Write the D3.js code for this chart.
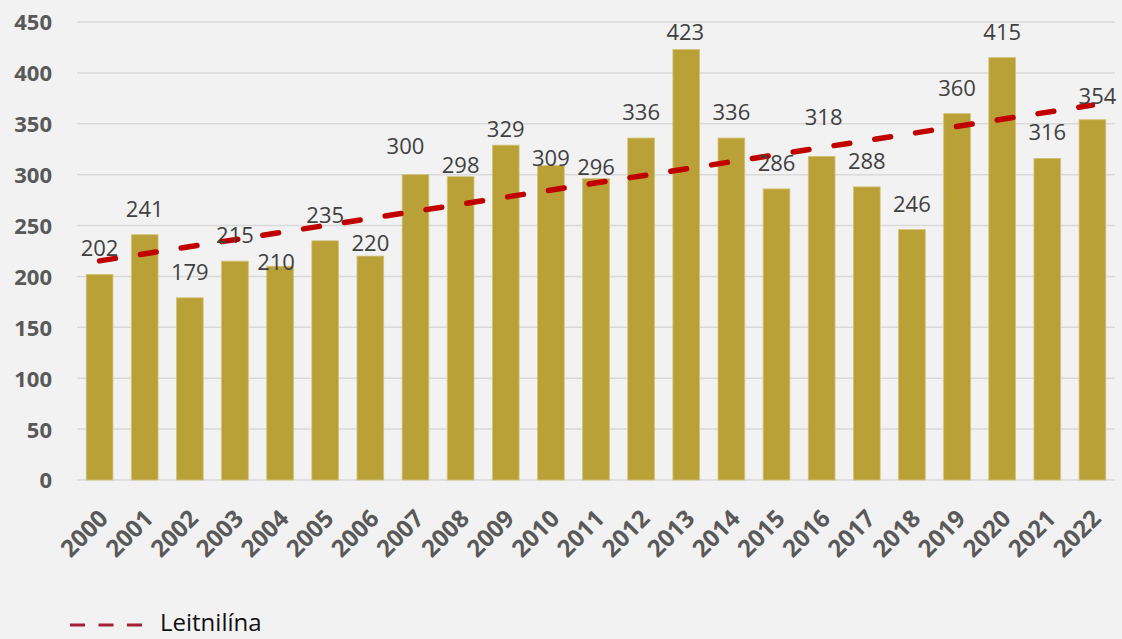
<!DOCTYPE html>
<html>
<head>
<meta charset="utf-8">
<script src="https://cdn.jsdelivr.net/npm/d3@7/dist/d3.min.js"></script>
<style>
  html, body { margin: 0; padding: 0; background: #f2f2f2; }
  svg { display: block; }
</style>
</head>
<body>
<svg id="chart" width="1122" height="639"></svg>
<script>
const years = ["2000","2001","2002","2003","2004","2005","2006","2007","2008","2009","2010","2011","2012","2013","2014","2015","2016","2017","2018","2019","2020","2021","2022"];
const values = [202,241,179,215,210,235,220,300,298,329,309,296,336,423,336,286,318,288,246,360,415,316,354];
const yTicks = [0,50,100,150,200,250,300,350,400,450];
const legendLabel = "Leitnilína";
// manual label nudges [dx, dy] (layout only)
const labelNudge = [[0,0],[0,0],[0,0],[0,0],[-4,22],[0,0],[0,13],[-10,-3],[0,14],[0,10],[0,18],[0,14],[0,0],[-1,9],[0,0],[0,0],[2,-13],[0,0],[0,0],[0,0],[0,0],[0,0],[5,2]];

(function () {
const svg = d3.select("#chart");
const W = 1122, H = 639;
svg.append("rect").attr("width", W).attr("height", H).attr("fill", "#f2f2f2");

const pLeft = 77, pRight = 1115, pTop = 22, pBottom = 480;
const x = d3.scaleBand().domain(years).range([pLeft, pRight]).paddingInner(0.408).paddingOuter(0.204);
const y = d3.scaleLinear().domain([0, 450]).range([pBottom, pTop]);
const font = "'Open Sans', 'Noto Sans', sans-serif";

// gridlines
svg.append("g").selectAll("line").data(yTicks).join("line")
  .attr("x1", pLeft).attr("x2", pRight)
  .attr("y1", d => y(d)).attr("y2", d => y(d))
  .attr("stroke", "#d9d9d9").attr("stroke-width", 1.5);

// y axis labels
const yAxis = d3.axisLeft(y).tickValues(yTicks).tickSize(0).tickPadding(0);
const gy = svg.append("g").attr("transform", `translate(52,0)`).call(yAxis);
gy.select(".domain").remove();
gy.selectAll("text")
  .attr("font-family", font)
  .attr("font-size", 22).attr("font-weight", "bold").attr("fill", "#595959")
  .attr("dy", "0.36em");

// bars
const data = years.map((yr, i) => ({ yr, v: values[i], i }));
svg.append("g").selectAll("rect").data(data).join("rect")
  .attr("x", d => x(d.yr)).attr("width", x.bandwidth())
  .attr("y", d => y(d.v)).attr("height", d => y(0) - y(d.v))
  .attr("fill", "#b9a037").attr("stroke", "#d3c27a").attr("stroke-width", 0.8);

// trendline (linear regression of the series)
const n = values.length;
const mi = d3.mean(d3.range(n));
const mv = d3.mean(values);
const slope = d3.sum(values, (v, i) => (i - mi) * (v - mv)) / d3.sum(d3.range(n), i => (i - mi) * (i - mi));
const icpt = mv - slope * mi;
const cx = i => x(years[i]) + x.bandwidth() / 2;
svg.append("line")
  .attr("x1", cx(0)).attr("y1", y(icpt))
  .attr("x2", cx(n - 1)).attr("y2", y(icpt + slope * (n - 1)))
  .attr("stroke", "#c00000").attr("stroke-width", 5.5)
  .attr("stroke-linecap", "round")
  .attr("stroke-dasharray", "16 25.3");

// value labels
svg.append("g").selectAll("text").data(data).join("text")
  .attr("x", d => cx(d.i) + labelNudge[d.i][0])
  .attr("y", d => y(d.v) - 18 + labelNudge[d.i][1])
  .attr("text-anchor", "middle")
  .attr("font-family", font)
  .attr("font-size", 22).attr("fill", "#404040")
  .text(d => d.v);

// x axis labels (rotated)
const xAxis = d3.axisBottom(x).tickSize(0).tickPadding(0);
const gx = svg.append("g").attr("transform", `translate(0,${pBottom})`).call(xAxis);
gx.select(".domain").remove();
gx.selectAll("text")
  .attr("font-family", font)
  .attr("font-size", 24).attr("font-weight", "bold").attr("fill", "#595959")
  .attr("text-anchor", "end")
  .attr("dy", null).attr("y", null)
  .attr("transform", `translate(10,40) rotate(-45)`);

// legend
const lg = svg.append("g");
lg.append("line").attr("x1", 70).attr("x2", 142).attr("y1", 625).attr("y2", 625)
  .attr("stroke", "#a3203a").attr("stroke-width", 3).attr("stroke-dasharray", "15 13.5");
lg.append("text").attr("x", 160).attr("y", 631)
  .attr("font-family", font)
  .attr("font-size", 24).attr("fill", "#111")
  .text(legendLabel);
})();
</script>
</body>
</html>
